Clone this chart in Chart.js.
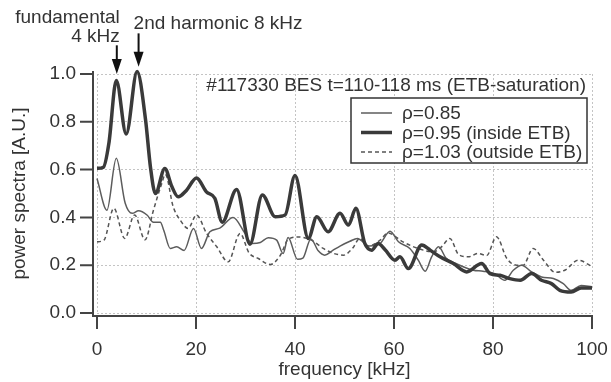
<!DOCTYPE html>
<html>
<head>
<meta charset="utf-8">
<script src="https://cdn.jsdelivr.net/npm/chart.js@4/dist/chart.umd.min.js"></script>
<style>
  html, body { margin: 0; padding: 0; background: #fff; }
  #wrap { width: 611px; height: 382px; }
</style>
</head>
<body>
<div id="wrap"><canvas id="myChart"></canvas></div>
<script>
// данные (частота в кГц, мощность в о.е.)
let freq085 = [0, 2.0, 3.9, 5.7, 7.1, 8.4, 10.1, 11.4, 12.8, 13.5, 14.8, 16.1, 17.6, 19.5, 21.1, 22.8, 24.8, 27.5, 29.9, 31.3, 33.0, 34.6, 36.3, 37.6, 38.6, 40.5, 41.6, 43.2, 44.7, 46.0, 47.5, 49.1, 51.1, 52.6, 55.0, 57.2, 59.2, 60.9, 63.2, 64.9, 66.3, 67.6, 69.0, 70.5, 72.5, 76.0, 78.0, 80.3, 82.4, 84.1, 85.8, 87.8, 89.8, 92.2, 94.2, 95.8, 97.8, 100];
let power085 = [0.563, 0.43, 0.647, 0.459, 0.417, 0.428, 0.41, 0.38, 0.38, 0.345, 0.27, 0.277, 0.262, 0.354, 0.27, 0.34, 0.355, 0.40, 0.333, 0.291, 0.295, 0.315, 0.305, 0.249, 0.316, 0.225, 0.23, 0.31, 0.26, 0.242, 0.26, 0.28, 0.3, 0.312, 0.28, 0.291, 0.342, 0.298, 0.27, 0.221, 0.175, 0.235, 0.277, 0.23, 0.207, 0.179, 0.175, 0.165, 0.137, 0.179, 0.2, 0.172, 0.151, 0.144, 0.123, 0.095, 0.115, 0.11];

let freq095 = [0, 1.3, 2.4, 3.9, 5.9, 8.1, 9.8, 10.8, 11.8, 13.7, 15.1, 16.4, 18.1, 20.1, 22.1, 23.8, 25.3, 28.2, 30.9, 33.4, 36.0, 38.0, 40.0, 42.7, 44.4, 46.7, 49.1, 50.8, 52.3, 54.1, 55.5, 56.8, 58.2, 60.2, 61.2, 62.9, 65.6, 67.3, 69.3, 72.0, 74.7, 77.7, 79.4, 81.4, 83.4, 85.5, 87.8, 89.8, 91.8, 93.5, 95.8, 97.8, 100];
let power095 = [0.605, 0.61, 0.71, 0.973, 0.749, 1.01, 0.81, 0.61, 0.50, 0.605, 0.53, 0.486, 0.514, 0.565, 0.507, 0.48, 0.38, 0.517, 0.288, 0.494, 0.403, 0.41, 0.575, 0.312, 0.403, 0.34, 0.417, 0.368, 0.438, 0.291, 0.263, 0.291, 0.265, 0.221, 0.235, 0.186, 0.284, 0.263, 0.235, 0.207, 0.172, 0.207, 0.165, 0.158, 0.144, 0.137, 0.165, 0.137, 0.123, 0.095, 0.088, 0.105, 0.105];

let freq103 = [0, 1.4, 3.4, 5.6, 7.6, 9.7, 11.4, 13.1, 13.8, 15.4, 16.8, 18.4, 20.1, 22.1, 24.2, 26.5, 28.9, 30.7, 32.6, 35.0, 37.0, 38.7, 40.8, 43.3, 45.7, 47.7, 49.8, 51.6, 53.1, 54.8, 57.2, 58.8, 61.6, 63.6, 65.9, 68.0, 69.6, 71.3, 73.0, 75.0, 77.0, 78.7, 80.7, 82.8, 84.8, 86.1, 88.1, 90.2, 92.6, 94.6, 97.2, 100];
let power103 = [0.298, 0.305, 0.438, 0.312, 0.41, 0.306, 0.43, 0.543, 0.58, 0.444, 0.389, 0.354, 0.41, 0.335, 0.277, 0.214, 0.333, 0.252, 0.228, 0.203, 0.24, 0.31, 0.318, 0.305, 0.27, 0.25, 0.242, 0.27, 0.312, 0.28, 0.305, 0.335, 0.3, 0.28, 0.263, 0.256, 0.277, 0.312, 0.246, 0.235, 0.249, 0.24, 0.319, 0.228, 0.2, 0.2, 0.27, 0.221, 0.17, 0.18, 0.221, 0.195];

let seriesLabels = ['ρ=0.85', 'ρ=0.95 (inside ETB)', 'ρ=1.03 (outside ETB)'];
let xTicks = [0, 20, 40, 60, 80, 100];
let yTicks = [0.0, 0.2, 0.4, 0.6, 0.8, 1.0];
let headerText = '#117330 BES t=110-118 ms (ETB-saturation)';
let arrowNotes = [
  { at: 4, lines: ['fundamental', '4 kHz'] },
  { at: 8.4, lines: ['2nd harmonic 8 kHz'] }
];

let FONT = '"Liberation Sans", Arial, sans-serif';
Chart.defaults.font.family = FONT;
Chart.defaults.font.size = 19;
Chart.defaults.color = '#333';

let zip = (xs, ys) => xs.map((x, i) => ({ x: x, y: ys[i] }));

// оси, подписи, стрелки и легенда
let decor = {
  id: 'decor',
  afterDraw(chart) {
    let ctx = chart.ctx;
    let a = chart.chartArea;
    let xs = chart.scales.x, ys = chart.scales.y;
    ctx.save();

    // оси со смещением
    let ax = a.left - 4, ay = a.bottom + 3;
    ctx.strokeStyle = '#444';
    ctx.lineWidth = 2;
    ctx.beginPath();
    ctx.moveTo(ax, ys.getPixelForValue(1) - 3);
    ctx.lineTo(ax, ay);
    ctx.lineTo(xs.getPixelForValue(100) + 1, ay);
    yTicks.forEach(v => {
      let py = ys.getPixelForValue(v);
      ctx.moveTo(ax, py);
      ctx.lineTo(ax - 13, py);
    });
    xTicks.forEach(v => {
      let px = xs.getPixelForValue(v);
      ctx.moveTo(px, ay);
      ctx.lineTo(px, ay + 13);
    });
    ctx.stroke();

    // заголовок внутри графика
    ctx.font = '19px ' + FONT;
    ctx.fillStyle = '#333';
    ctx.textAlign = 'right';
    ctx.textBaseline = 'middle';
    ctx.fillText(headerText, a.right - 6, a.top + 12);

    // стрелки с подписями
    arrowNotes.forEach((n, k) => {
      let px = xs.getPixelForValue(n.at);
      let tail = ys.getPixelForValue(k === 0 ? 1.12 : 1.17);
      let tip = ys.getPixelForValue(k === 0 ? 1.0 : 1.03);
      ctx.strokeStyle = '#111';
      ctx.fillStyle = '#111';
      ctx.lineWidth = 2;
      ctx.beginPath();
      ctx.moveTo(px, tail);
      ctx.lineTo(px, tip - 12);
      ctx.stroke();
      ctx.beginPath();
      ctx.moveTo(px - 5, tip - 15);
      ctx.lineTo(px + 5, tip - 15);
      ctx.lineTo(px, tip);
      ctx.closePath();
      ctx.fill();
      ctx.fillStyle = '#333';
      if (k === 0) {
        ctx.textAlign = 'right';
        ctx.fillText(n.lines[0], px + 3, 18);
        ctx.fillText(n.lines[1], px + 3, 37);
      } else {
        ctx.textAlign = 'left';
        ctx.fillText(n.lines[0], px - 5, 24);
      }
    });

    // легенда
    let bx = a.right - 241, by = a.top + 24, bw = 236, bh = 65;
    ctx.fillStyle = '#fff';
    ctx.fillRect(bx, by, bw, bh);
    ctx.strokeStyle = '#333';
    ctx.lineWidth = 1.5;
    ctx.strokeRect(bx, by, bw, bh);
    chart.data.datasets.forEach((ds, i) => {
      let ly = by + 15 + i * 19.5;
      ctx.strokeStyle = ds.borderColor;
      ctx.lineWidth = ds.borderWidth;
      ctx.setLineDash(ds.borderDash || []);
      ctx.beginPath();
      ctx.moveTo(bx + 10, ly);
      ctx.lineTo(bx + 41, ly);
      ctx.stroke();
      ctx.setLineDash([]);
      ctx.fillStyle = '#333';
      ctx.textAlign = 'left';
      ctx.fillText(ds.label, bx + 51, ly + 1);
    });
    ctx.restore();
  }
};

let ctxFirst = document.querySelector('#myChart').getContext('2d');

let config = {
  type: 'line',
  data: {
    datasets: [
      {
        label: seriesLabels[0],
        data: zip(freq085, power085),
        borderColor: '#5c5c5c',
        borderWidth: 1.5,
        order: 1
      },
      {
        label: seriesLabels[1],
        data: zip(freq095, power095),
        borderColor: '#3a3a3a',
        borderWidth: 3.5,
        order: 0
      },
      {
        label: seriesLabels[2],
        data: zip(freq103, power103),
        borderColor: '#555',
        borderWidth: 1.5,
        borderDash: [4, 3],
        order: 2
      }
    ]
  },
  options: {
    responsive: true,
    maintainAspectRatio: false,
    animation: false,
    layout: { padding: { top: 74, right: 19, left: 0, bottom: 0 } },
    elements: {
      point: { radius: 0 },
      line: { cubicInterpolationMode: 'monotone', fill: false }
    },
    datasets: { line: { clip: false } },
    scales: {
      x: {
        type: 'linear',
        min: 0,
        max: 100,
        afterFit: s => { s.height = 69; s.paddingLeft = 0; s.paddingRight = 0; },
        afterBuildTicks: s => { s.ticks = xTicks.map(v => ({ value: v })); },
        ticks: { padding: 25, maxRotation: 0 },
        grid: { color: '#c4c4c4', lineWidth: 1, drawTicks: false },
        border: { display: false, dash: [2, 2] },
        title: { display: true, text: 'frequency [kHz]', padding: { top: 0, bottom: 1 } }
      },
      y: {
        min: 0,
        max: 1,
        afterFit: s => { s.width = 97; s.paddingTop = 0; s.paddingBottom = 0; },
        afterBuildTicks: s => { s.ticks = yTicks.map(v => ({ value: v })); },
        ticks: { padding: 21, callback: v => v.toFixed(1) },
        grid: { color: '#c4c4c4', lineWidth: 1, drawTicks: false },
        border: { display: false, dash: [2, 2] },
        title: { display: true, text: 'power spectra [A.U.]', padding: { top: 8, bottom: 0 } }
      }
    },
    plugins: {
      legend: { display: false },
      tooltip: { enabled: false }
    }
  },
  plugins: [decor]
};

let chart = new Chart(ctxFirst, config);
</script>
</body>
</html>
